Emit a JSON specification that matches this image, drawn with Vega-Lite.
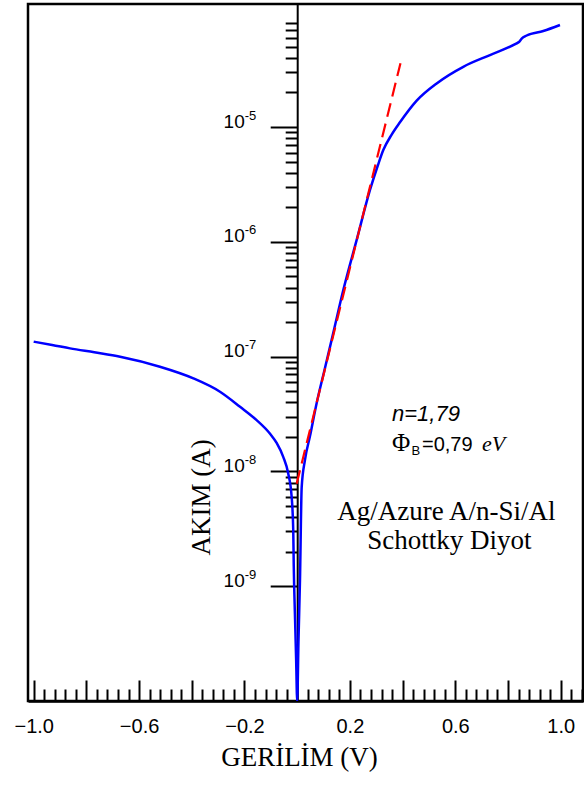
{
  "$schema": "https://vega.github.io/schema/vega-lite/v6.json",
  "width": 555,
  "height": 697,
  "autosize": {"type": "none"},
  "padding": {"left": 28, "top": 4, "right": 1, "bottom": 84},
  "background": "white",
  "config": {
    "view": {"stroke": "black", "strokeWidth": 2.5},
    "axis": {
      "grid": false,
      "domainColor": "black",
      "tickColor": "black",
      "labelColor": "black",
      "titleColor": "black",
      "labelFont": "Liberation Sans",
      "titleFont": "Liberation Serif",
      "titleFontWeight": "normal",
      "domainWidth": 2,
      "tickWidth": 2,
      "labelFlush": false,
      "labelOverlap": false
    }
  },
  "datasets": {
    "blue": [
      {"V": -1.0, "I": 1.35e-7},
      {"V": -0.93, "I": 1.265e-7},
      {"V": -0.862, "I": 1.18e-7},
      {"V": -0.77, "I": 1.09e-7},
      {"V": -0.672, "I": 9.98e-8},
      {"V": -0.521, "I": 8.17e-8},
      {"V": -0.394, "I": 6.47e-8},
      {"V": -0.293, "I": 4.95e-8},
      {"V": -0.217, "I": 3.66e-8},
      {"V": -0.154, "I": 2.8e-8},
      {"V": -0.103, "I": 2.13e-8},
      {"V": -0.078, "I": 1.77e-8},
      {"V": -0.053, "I": 1.34e-8},
      {"V": -0.034, "I": 9.6e-9},
      {"V": -0.021, "I": 6.0e-9},
      {"V": -0.015, "I": 3.1e-9},
      {"V": -0.013, "I": 1.5e-9},
      {"V": -0.008, "I": 5.1e-10},
      {"V": -0.004, "I": 2.3e-10},
      {"V": 0.0, "I": 1e-10},
      {"V": 0.005, "I": 3.4e-10},
      {"V": 0.0106, "I": 1.13e-9},
      {"V": 0.0171, "I": 7.3e-9},
      {"V": 0.0296, "I": 1.26e-8},
      {"V": 0.0486, "I": 2.03e-8},
      {"V": 0.074, "I": 3.94e-8},
      {"V": 0.1055, "I": 7.96e-8},
      {"V": 0.137, "I": 1.61e-7},
      {"V": 0.175, "I": 3.8e-7},
      {"V": 0.2258, "I": 1.04e-6},
      {"V": 0.2763, "I": 2.83e-6},
      {"V": 0.3066, "I": 4.67e-6},
      {"V": 0.3268, "I": 6.3e-6},
      {"V": 0.3586, "I": 8.6e-6},
      {"V": 0.39, "I": 1.1e-5},
      {"V": 0.4535, "I": 1.7e-5},
      {"V": 0.5294, "I": 2.4e-5},
      {"V": 0.6304, "I": 3.35e-5},
      {"V": 0.7317, "I": 4.24e-5},
      {"V": 0.833, "I": 5.36e-5},
      {"V": 0.8418, "I": 5.5e-5},
      {"V": 0.852, "I": 5.89e-5},
      {"V": 0.871, "I": 6.27e-5},
      {"V": 0.934, "I": 6.86e-5},
      {"V": 0.9973, "I": 7.74e-5}
    ],
    "red": [
      {"V": -0.002, "I": 7.8e-9},
      {"V": 0.392, "I": 3.6e-5}
    ],
    "nlabel": [{"V": 0.3597, "I": 2.75e-8, "t": "n=1,79"}],
    "phi": [{"V": 0.3597, "I": 1.506e-8, "t": "Φ"}],
    "sub": [{"V": 0.4338, "I": 1.39e-8, "t": "B"}],
    "val": [{"V": 0.4736, "I": 1.506e-8, "t": "=0,79"}],
    "unit": [{"V": 0.7013, "I": 1.506e-8, "t": "eV"}],
    "device": [
      {"V": 0.5662, "I": 3.772e-9, "t": "Ag/Azure A/n-Si/Al"},
      {"V": 0.5776, "I": 2.109e-9, "t": "Schottky Diyot"}
    ]
  },
  "layer": [
    {
      "data": {"name": "blue"},
      "mark": {"type": "line", "color": "#0000ff", "strokeWidth": 2.5, "clip": true, "interpolate": "monotone"},
      "encoding": {
        "x": {
          "field": "V", "type": "quantitative",
          "scale": {"domain": [-1.0216, 1.0847], "nice": false, "zero": false},
          "axis": {
            "orient": "bottom",
            "values": [-1.0, -0.8, -0.6, -0.4, -0.2, 0.0, 0.2, 0.4, 0.6, 0.8, 1.0],
            "tickSize": -21, "labels": false, "title": null, "domain": true, "domainWidth": 2.5
          }
        },
        "y": {
          "field": "I", "type": "quantitative",
          "scale": {"type": "log", "domain": [1e-10, 1.18e-4], "nice": false},
          "axis": {
            "orient": "left", "offset": -269.2,
            "values": [1e-9, 1e-8, 1e-7, 1e-6, 1e-5],
            "tickSize": 27, "labels": false, "title": null, "domain": true, "domainWidth": 2
          }
        }
      }
    },
    {
      "data": {"name": "red"},
      "mark": {"type": "line", "color": "#ff0000", "strokeWidth": 2.2, "strokeDash": [14, 7], "clip": true},
      "encoding": {
        "x": {
          "field": "V", "type": "quantitative",
          "scale": {"domain": [-1.0216, 1.0847], "nice": false, "zero": false},
          "axis": {
            "orient": "bottom",
            "values": [-0.96, -0.92, -0.88, -0.84, -0.76, -0.72, -0.68, -0.64, -0.56, -0.52, -0.48, -0.44, -0.36, -0.32, -0.28, -0.24, -0.16, -0.12, -0.08, -0.04, 0.04, 0.08, 0.12, 0.16, 0.24, 0.28, 0.32, 0.36, 0.44, 0.48, 0.52, 0.56, 0.64, 0.68, 0.72, 0.76, 0.84, 0.88, 0.92, 0.96, 1.04, 1.08],
            "tickSize": -12, "labels": false, "title": null, "domain": false
          }
        },
        "y": {
          "field": "I", "type": "quantitative",
          "scale": {"type": "log", "domain": [1e-10, 1.18e-4], "nice": false},
          "axis": {
            "orient": "left", "offset": -269.2,
            "values": [2e-9, 3e-9, 4e-9, 5e-9, 6e-9, 7e-9, 8e-9, 9e-9, 2e-8, 3e-8, 4e-8, 5e-8, 6e-8, 7e-8, 8e-8, 9e-8, 2e-7, 3e-7, 4e-7, 5e-7, 6e-7, 7e-7, 8e-7, 9e-7, 2e-6, 3e-6, 4e-6, 5e-6, 6e-6, 7e-6, 8e-6, 9e-6, 2e-5, 3e-5, 4e-5, 5e-5, 6e-5, 7e-5, 8e-5],
            "tickSize": 12, "labels": false, "title": null, "domain": false
          }
        }
      }
    },
    {
      "data": {"name": "nlabel"},
      "mark": {"type": "text", "font": "Liberation Sans", "fontStyle": "italic", "fontSize": 22, "align": "left", "baseline": "alphabetic", "color": "black"},
      "encoding": {
        "text": {"field": "t"},
        "x": {
          "field": "V", "type": "quantitative",
          "scale": {"domain": [-1.0216, 1.0847], "nice": false, "zero": false},
          "axis": {
            "orient": "bottom",
            "values": [-1.0, -0.6, -0.2, 0.2, 0.6, 1.0],
            "ticks": false, "domain": false, "format": ".1f",
            "labelFontSize": 20, "labelBaseline": "alphabetic", "labelPadding": 31,
            "title": "GERİLİM (V)", "titleFontSize": 27, "titleX": 271, "titleY": 64,
            "titleBaseline": "alphabetic", "titleAlign": "center"
          }
        },
        "y": {
          "field": "I", "type": "quantitative",
          "scale": {"type": "log", "domain": [1e-10, 1.18e-4], "nice": false},
          "axis": {
            "orient": "left", "offset": -269.2,
            "values": [1e-9, 1e-8, 1e-7, 1e-6, 1e-5],
            "ticks": false, "domain": false,
            "labelExpr": "'10'", "labelFontSize": 19, "labelAlign": "right", "labelBaseline": "alphabetic", "labelPadding": 53,
            "title": "AKIM (A)", "titleFontSize": 27, "titleAngle": 270, "titleX": -96, "titleY": 493,
            "titleAlign": "center", "titleBaseline": "middle"
          }
        }
      }
    },
    {
      "data": {"name": "phi"},
      "mark": {"type": "text", "font": "Liberation Serif", "fontSize": 25, "align": "left", "baseline": "alphabetic", "color": "black"},
      "encoding": {
        "text": {"field": "t"},
        "x": {
          "field": "V", "type": "quantitative",
          "scale": {"domain": [-1.0216, 1.0847], "nice": false, "zero": false},
          "axis": null
        },
        "y": {
          "field": "I", "type": "quantitative",
          "scale": {"type": "log", "domain": [1e-10, 1.18e-4], "nice": false},
          "axis": {
            "orient": "left", "offset": -269.2,
            "values": [1e-9, 1e-8, 1e-7, 1e-6, 1e-5],
            "ticks": false, "domain": false,
            "labelExpr": "'-' + (-round(log(datum.value) / LN10))",
            "labelFontSize": 13, "labelAlign": "left", "labelBaseline": "alphabetic", "labelPadding": 53, "labelOffset": -8,
            "title": null
          }
        }
      }
    },
    {
      "data": {"name": "sub"},
      "mark": {"type": "text", "font": "Liberation Sans", "fontSize": 13, "align": "left", "baseline": "alphabetic", "color": "black"},
      "encoding": {
        "text": {"field": "t"},
        "x": {"field": "V", "type": "quantitative", "scale": {"domain": [-1.0216, 1.0847], "nice": false, "zero": false}, "axis": null},
        "y": {"field": "I", "type": "quantitative", "scale": {"type": "log", "domain": [1e-10, 1.18e-4], "nice": false}, "axis": null}
      }
    },
    {
      "data": {"name": "val"},
      "mark": {"type": "text", "font": "Liberation Sans", "fontSize": 20, "align": "left", "baseline": "alphabetic", "color": "black"},
      "encoding": {
        "text": {"field": "t"},
        "x": {"field": "V", "type": "quantitative", "scale": {"domain": [-1.0216, 1.0847], "nice": false, "zero": false}, "axis": null},
        "y": {"field": "I", "type": "quantitative", "scale": {"type": "log", "domain": [1e-10, 1.18e-4], "nice": false}, "axis": null}
      }
    },
    {
      "data": {"name": "unit"},
      "mark": {"type": "text", "font": "Liberation Serif", "fontStyle": "italic", "fontSize": 22, "align": "left", "baseline": "alphabetic", "color": "black"},
      "encoding": {
        "text": {"field": "t"},
        "x": {"field": "V", "type": "quantitative", "scale": {"domain": [-1.0216, 1.0847], "nice": false, "zero": false}, "axis": null},
        "y": {"field": "I", "type": "quantitative", "scale": {"type": "log", "domain": [1e-10, 1.18e-4], "nice": false}, "axis": null}
      }
    },
    {
      "data": {"name": "device"},
      "mark": {"type": "text", "font": "Liberation Serif", "fontSize": 27, "align": "center", "baseline": "alphabetic", "color": "black"},
      "encoding": {
        "text": {"field": "t"},
        "x": {"field": "V", "type": "quantitative", "scale": {"domain": [-1.0216, 1.0847], "nice": false, "zero": false}, "axis": null},
        "y": {"field": "I", "type": "quantitative", "scale": {"type": "log", "domain": [1e-10, 1.18e-4], "nice": false}, "axis": null}
      }
    }
  ],
  "resolve": {"axis": {"x": "independent", "y": "independent"}}
}
